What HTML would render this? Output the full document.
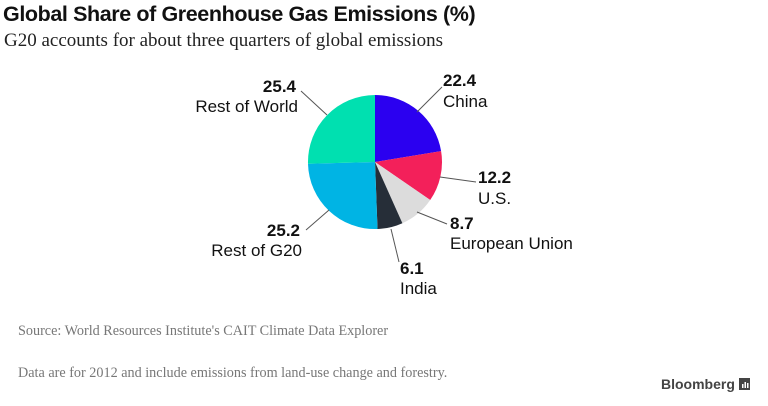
<!DOCTYPE html>
<html><head><meta charset="utf-8"><style>
body{margin:0;background:#fff;width:768px;height:406px;overflow:hidden;position:relative}
.t{position:absolute;white-space:nowrap}
</style></head><body>
<div class="t" style="left:3px;top:2px;font:bold 21.5px 'Liberation Sans',sans-serif;color:#111;letter-spacing:-0.4px">Global Share of Greenhouse Gas Emissions (%)</div>
<div class="t" style="left:4px;top:30px;font:19px 'Liberation Serif',serif;color:#222">G20 accounts for about three quarters of global emissions</div>
<svg width="768" height="406" style="position:absolute;left:0;top:0" font-family="Liberation Sans, sans-serif" font-size="17">
<path d="M375,162 L375,95 A67,67 0 0 1 441.1,151.1Z" fill="#2b00f0"/>
<path d="M375,162 L441.1,151.1 A67,67 0 0 1 430.2,200Z" fill="#f3205a"/>
<path d="M375,162 L430.2,200 A67,67 0 0 1 402.4,223.2Z" fill="#dcdcdc"/>
<path d="M375,162 L402.4,223.2 A67,67 0 0 1 377.5,229Z" fill="#262e38"/>
<path d="M375,162 L377.5,229 A67,67 0 0 1 308,163.7Z" fill="#00b4e4"/>
<path d="M375,162 L308,163.7 A67,67 0 0 1 375,95Z" fill="#00e0b0"/>
<g stroke="#555" stroke-width="1">
<line x1="417" y1="112" x2="442" y2="87"/>
<line x1="440" y1="177" x2="476" y2="182"/>
<line x1="417" y1="212" x2="447" y2="224"/>
<line x1="391" y1="229" x2="399" y2="262"/>
<line x1="329" y1="210" x2="306" y2="230"/>
<line x1="327" y1="115" x2="301" y2="91"/>
</g>
<g fill="#111">
<text x="443" y="86" font-weight="bold">22.4</text><text x="443" y="107">China</text>
<text x="478" y="183" font-weight="bold">12.2</text><text x="478" y="204">U.S.</text>
<text x="450" y="229" font-weight="bold">8.7</text><text x="450" y="249">European Union</text>
<text x="400" y="274" font-weight="bold">6.1</text><text x="400" y="294">India</text>
<text x="300" y="236" font-weight="bold" text-anchor="end">25.2</text><text x="302" y="256" text-anchor="end">Rest of G20</text>
<text x="296" y="92" font-weight="bold" text-anchor="end">25.4</text><text x="298" y="112" text-anchor="end">Rest of World</text>
</g>
<rect x="739" y="378" width="11" height="12" fill="#444"/>
<rect x="742" y="384" width="1.5" height="4" fill="#fff"/><rect x="744.5" y="382" width="1.5" height="6" fill="#fff"/><rect x="747" y="383" width="1.5" height="5" fill="#fff"/>
</svg>
<div class="t" style="left:18px;top:323px;font:14.2px 'Liberation Serif',serif;color:#777">Source: World Resources Institute's CAIT Climate Data Explorer</div>
<div class="t" style="left:18px;top:365px;font:14.2px 'Liberation Serif',serif;color:#777">Data are for 2012 and include emissions from land-use change and forestry.</div>
<div class="t" style="left:661px;top:376px;font:bold 14px 'Liberation Sans',sans-serif;color:#444">Bloomberg</div>
</body></html>
